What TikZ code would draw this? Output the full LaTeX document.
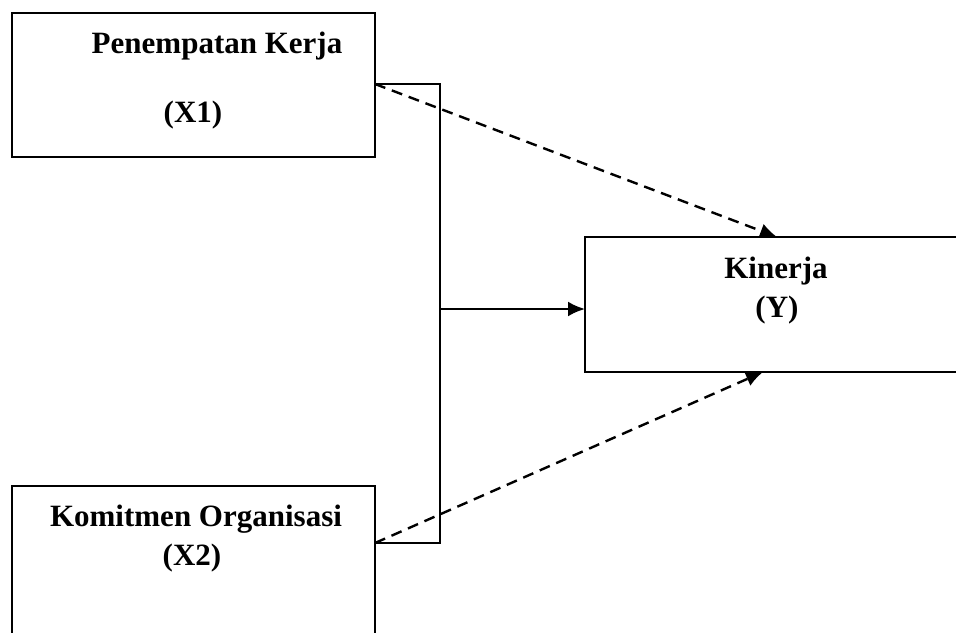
\documentclass[tikz,border=0pt]{standalone}
\usepackage{fontspec}
\setmainfont{Liberation Serif}
\usetikzlibrary{arrows.meta}
\begin{document}
\begin{tikzpicture}[x=1pt,y=-1pt,
  box/.style={draw,line width=2.2pt,rectangle,inner sep=0pt},
  lbl/.style={font=\fontsize{31}{36}\selectfont\bfseries,inner sep=0pt,anchor=base},
  conn/.style={line width=2.4pt},
  dashconn/.style={line width=2.4pt,dash pattern=on 11pt off 7pt,-{Latex[length=17pt,width=15pt]}},
  arr/.style={line width=2.4pt,-{Latex[length=17pt,width=15pt]}}]
\useasboundingbox (0,0) rectangle (956,632);
\clip (0,0) rectangle (956,632);
\node[box,minimum width=363pt,minimum height=144pt] (x1) at (193.5,85) {};
\node[box,minimum width=400pt,minimum height=135pt] (y) at (785,304.5) {};
\node[box,minimum width=363pt,minimum height=174pt] (x2) at (193.5,573) {};
\node[lbl] (t1) at (217,53) {Penempatan Kerja};
\node[lbl] (t1b) at (193,122) {(X1)};
\node[lbl] (t3) at (776,278) {Kinerja};
\node[lbl] (t3b) at (777,317) {(Y)};
\node[lbl] (t2) at (196,526) {Komitmen Organisasi};
\node[lbl] (t2b) at (192,565) {(X2)};
\coordinate (a1) at (375,84);
\coordinate (a2) at (375,543);
\coordinate (b1) at (440,84);
\coordinate (b2) at (440,543);
\coordinate (m) at (440,309);
\coordinate (ytop) at (777,237);
\coordinate (ybot) at (763,372);
\coordinate (yl) at (585,309);
\draw[conn] (a1) -- (b1) -- (b2) -- (a2);
\draw[arr] (m) -- (yl);
\draw[dashconn] (a1) -- (ytop);
\draw[dashconn] (a2) -- (ybot);
\end{tikzpicture}
\end{document}
